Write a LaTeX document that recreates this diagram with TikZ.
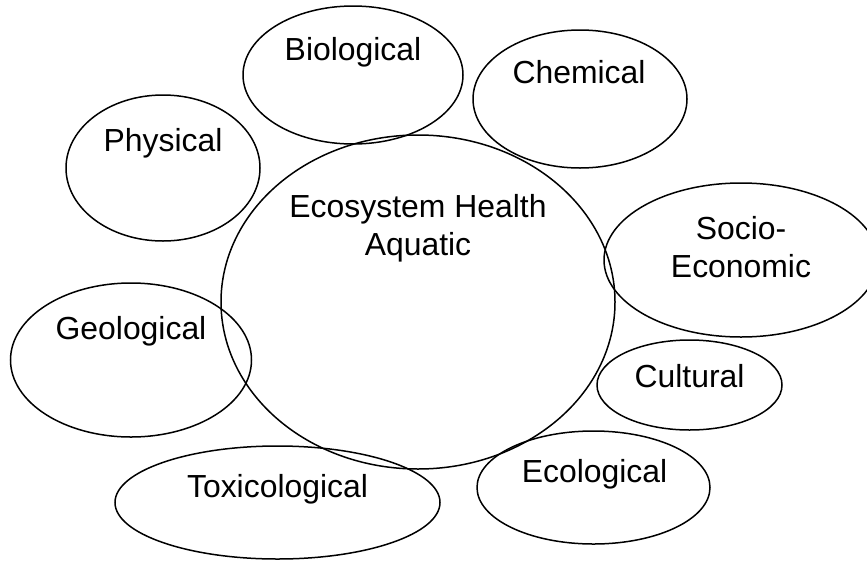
\documentclass[tikz,border=0pt]{standalone}
\usepackage{fontspec}
\setmainfont{Liberation Sans}
\usetikzlibrary{shapes.geometric}
\tikzset{
  area/.style={ellipse, draw, line width=1.5pt, inner sep=0pt},
  lbl/.style={font=\fontsize{31.9}{37.5}\selectfont, align=center, anchor=base, inner sep=0pt}
}

\begin{document}
\begin{tikzpicture}[x=1pt, y=-1pt]
  \useasboundingbox (0,0) rectangle (867,560);
  % centre ellipse
  \node[area, minimum width=394pt, minimum height=334pt] (eco) at (418,302) {};
  \node[lbl] (ecot) at (418,255) {Ecosystem Health\\Aquatic};
  % surrounding aspects
  \node[area, minimum width=220pt, minimum height=138pt] (bio) at (353,75) {};
  \node[lbl] (biot) at (353,60) {Biological};
  \node[area, minimum width=214pt, minimum height=138pt] (chem) at (580,99) {};
  \node[lbl] (chemt) at (579,83) {Chemical};
  \node[area, minimum width=194pt, minimum height=146pt] (phys) at (163,168) {};
  \node[lbl] (physt) at (163,151) {Physical};
  \node[area, minimum width=274pt, minimum height=154pt] (socio) at (741,260) {};
  \node[lbl] (sociot) at (741,277) {Socio-\\Economic};
  \node[area, minimum width=241pt, minimum height=154pt] (geo) at (131,360) {};
  \node[lbl] (geot) at (131,339) {Geological};
  \node[area, minimum width=185pt, minimum height=90pt] (cult) at (689.5,385) {};
  \node[lbl] (cultt) at (689.5,387) {Cultural};
  \node[area, minimum width=233pt, minimum height=113pt] (ecol) at (593.5,487.5) {};
  \node[lbl] (ecolt) at (594.5,482) {Ecological};
  \node[area, minimum width=325pt, minimum height=113pt] (tox) at (277.5,502.5) {};
  \node[lbl] (toxt) at (277.5,497) {Toxicological};
\end{tikzpicture}
\end{document}
